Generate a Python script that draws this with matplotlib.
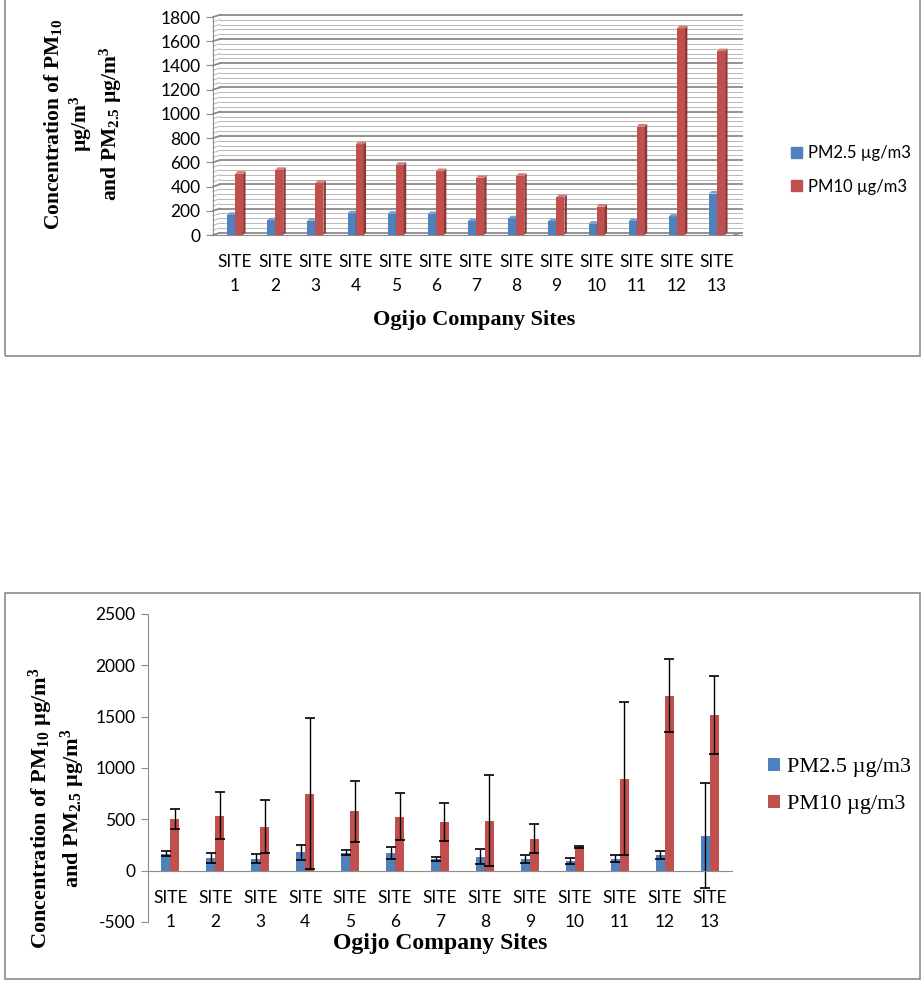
import matplotlib.pyplot as plt
from matplotlib.patches import Patch, Rectangle
import numpy as np

plt.rcParams["mathtext.fontset"] = "custom"
plt.rcParams["mathtext.rm"] = "Liberation Serif:bold"
plt.rcParams["mathtext.default"] = "rm"
plt.rcParams["axes.unicode_minus"] = False

sites = ["SITE\n1", "SITE\n2", "SITE\n3", "SITE\n4", "SITE\n5", "SITE\n6", "SITE\n7",
         "SITE\n8", "SITE\n9", "SITE\n10", "SITE\n11", "SITE\n12", "SITE\n13"]
pm25 = [165, 120, 118, 178, 175, 172, 115, 137, 115, 92, 115, 153, 342]
pm10 = [505, 537, 430, 749, 579, 527, 472, 488, 312, 234, 895, 1706, 1517]
pm25_err = [25, 50, 45, 72, 25, 55, 18, 75, 37, 28, 35, 40, 512]
pm10_err = [100, 232, 260, 735, 296, 232, 187, 440, 144, 10, 745, 352, 380]

top_ticks = list(range(0, 2000, 200))
bot_ticks = list(range(-500, 3000, 500))

BLUE, RED = "#4F81BD", "#C0504D"
BLUE_SIDE, RED_SIDE = "#385D8A", "#8C3836"
BLUE_TOP, RED_TOP = "#7BA0CD", "#D37F7C"
SANS = "Lato"
SERIF = "Liberation Serif"

fig = plt.figure(figsize=(9.23, 9.9), dpi=100)
W, H = 923, 990

# frames around both charts
fig.add_artist(Rectangle((5 / W, 1 - 356 / H), 915 / W, 356 / H + 0.01, transform=fig.transFigure,
                         fill=False, ec="#8c8c8c", lw=1.2))
fig.add_artist(Rectangle((5 / W, 1 - 979 / H), 915 / W, 386 / H, transform=fig.transFigure,
                         fill=False, ec="#8c8c8c", lw=1.2))

x = np.arange(len(sites))
bw = 0.2

# ---------------- top chart (pseudo 3D columns) ----------------
ax1 = fig.add_axes([213 / W, 1 - 235 / H, 529 / W, 218 / H])
ax1.set_xlim(-0.55, 12.62)
ax1.set_ylim(0, 1800)
for s in ["top", "right"]:
    ax1.spines[s].set_visible(False)
ax1.spines["left"].set_color("#8c8c8c")
ax1.spines["bottom"].set_color("#8c8c8c")
ax1.set_yticks(top_ticks)
ax1.tick_params(axis="y", length=5, color="#8c8c8c", labelsize=12.5, pad=4)
ax1.tick_params(axis="x", length=0, labelsize=12.5, pad=14)
ax1.set_xticks(x)
ax1.set_xticklabels(sites, fontfamily=SANS, linespacing=1.6)
for lab in ax1.get_yticklabels():
    lab.set_fontfamily(SANS)

# back wall and side wall grid
wall = 0.013
dep = 18
tr = ax1.get_yaxis_transform()
for v in range(0, 1801, 40):
    major = v % 200 == 0
    c = "#8a8a8a" if major else "#b8b8b8"
    lw = 1.3 if major else 0.7
    ax1.plot([wall, 1.0], [v + dep, v + dep], transform=tr, color=c, lw=lw, zorder=0, clip_on=False)
    ax1.plot([0, wall], [v, v + dep], transform=tr, color=c, lw=lw, zorder=0, clip_on=False)
ax1.plot([0.985, 1.0], [0, dep], transform=tr, color="#8c8c8c", lw=1, clip_on=False)

ddx, ddy = 0.06, 22
for vals, off, cf, cs, ct in [(pm25, -bw / 2, BLUE, BLUE_SIDE, BLUE_TOP),
                              (pm10, bw / 2, RED, RED_SIDE, RED_TOP)]:
    ax1.bar(x + off, vals, width=bw, color=cf, zorder=3)
    for xi, v in zip(x + off, vals):
        r = xi + bw / 2
        l = xi - bw / 2
        ax1.fill([r, r + ddx, r + ddx, r], [0, ddy, v + ddy, v], color=cs, zorder=3, lw=0)
        ax1.fill([l, l + ddx, r + ddx, r], [v, v + ddy, v + ddy, v], color=ct, zorder=3, lw=0)

ax1.legend(handles=[Patch(color=BLUE, label="PM2.5 µg/m3"), Patch(color=RED, label="PM10 µg/m3")],
           loc="center left", bbox_to_anchor=(776 / W, 1 - 170 / H), bbox_transform=fig.transFigure,
           frameon=False, handlelength=0.65, handleheight=0.65, handletextpad=0.4,
           labelspacing=1.05, prop={"family": SANS, "size": 12})

fig.text(83 / W, 1 - 124 / H, "Concentration of PM$_{10}$\nµg/m$^3$\nand PM$_{2.5}$ µg/m$^3$",
         rotation=90, ha="center", va="center", ma="center", fontsize=15.5, fontweight="bold",
         fontfamily=SERIF, linespacing=1.2)
fig.text(474 / W, 1 - 320 / H, "Ogijo Company Sites", ha="center", va="center",
         fontsize=16, fontweight="bold", fontfamily=SERIF)

# ---------------- bottom chart (with error bars) ----------------
ax2 = fig.add_axes([148 / W, 1 - 922 / H, 584 / W, 308 / H])
ax2.set_xlim(-0.5, 12.5)
ax2.set_ylim(-500, 2500)
for s in ["top", "right"]:
    ax2.spines[s].set_visible(False)
ax2.spines["bottom"].set_position(("data", 0))
ax2.spines["left"].set_color("#8c8c8c")
ax2.spines["bottom"].set_color("#8c8c8c")
ax2.set_yticks(bot_ticks)
ax2.tick_params(axis="y", length=5, color="#8c8c8c", labelsize=12.5, pad=4)
ax2.tick_params(axis="x", length=0, labelsize=12.5, pad=14)
ax2.set_xticks(x)
ax2.set_xticklabels(sites, fontfamily=SANS, linespacing=1.6)
for lab in ax2.get_yticklabels():
    lab.set_fontfamily(SANS)

ekw = dict(ecolor="black", elinewidth=1, capsize=3.5, capthick=1.2)
ax2.bar(x - bw / 2, pm25, width=bw, color=BLUE, yerr=pm25_err, error_kw=ekw, label="PM2.5 µg/m3")
ax2.bar(x + bw / 2, pm10, width=bw, color=RED, yerr=pm10_err, error_kw=ekw, label="PM10 µg/m3")

ax2.legend(loc="center left", bbox_to_anchor=(748 / W, 1 - 786 / H), bbox_transform=fig.transFigure,
           frameon=False, handlelength=0.55, handleheight=0.55, handletextpad=0.3,
           labelspacing=0.8, prop={"family": SERIF, "size": 16})

fig.text(57 / W, 1 - 808 / H, "Concentration of PM$_{10}$ µg/m$^3$\nand PM$_{2.5}$ µg/m$^3$",
         rotation=90, ha="center", va="center", ma="center", fontsize=16, fontweight="bold",
         fontfamily=SERIF, linespacing=1.15)
fig.text(440 / W, 1 - 944 / H, "Ogijo Company Sites", ha="center", va="center",
         fontsize=17, fontweight="bold", fontfamily=SERIF)

fig.savefig("out.png", dpi=100)
